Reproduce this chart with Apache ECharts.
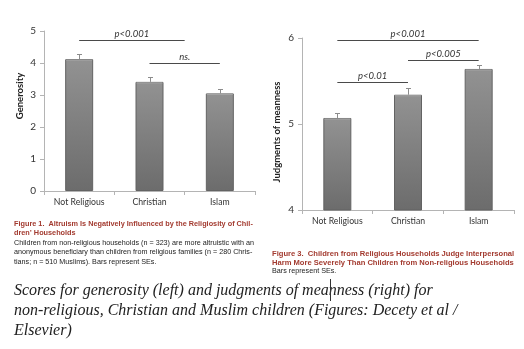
<!DOCTYPE html>
<html>
<head>
<meta charset="utf-8">
<script src="https://cdn.jsdelivr.net/npm/echarts@6/dist/echarts.min.js"></script>
<style>
html,body{margin:0;padding:0;background:#fff;}
#c{width:524px;height:349px;}
</style>
</head>
<body>
<div id="c"></div>
<script>
const categories = ['Not Religious', 'Christian', 'Islam'];
const generosity = [4.12, 3.41, 3.05];
const generositySE = [0.15, 0.16, 0.13];
const meanness = [5.07, 5.34, 5.64];
const meannessSE = [0.06, 0.08, 0.05];
const generosityTicks = [0, 1, 2, 3, 4, 5];
const meannessTicks = [4, 5, 6];
// significance brackets: [from category, to category, level, label]
const generositySig = [[0, 1.5, 4.72, 'p<0.001'], [1, 2, 3.99, 'ns.']];
const meannessSig = [[0, 2, 5.98, 'p<0.001'], [1, 2, 5.75, 'p<0.005'], [0, 1, 5.49, 'p<0.01']];

const leftCaptionTitle = ['Figure 1.  Altruism Is Negatively Influenced by the Religiosity of Chil-', 'dren\u2019 Households'];
const leftCaptionBody = ['Children from non-religious households (n = 323) are more altruistic with an',
  'anonymous beneficiary than children from religious families (n = 280 Chris-',
  'tians; n = 510 Muslims). Bars represent SEs.'];
const rightCaptionTitle = ['Figure 3.  Children from Religious Households Judge Interpersonal',
  'Harm More Severely Than Children from Non-religious Households'];
const rightCaptionBody = ['Bars represent SEs.'];
const bottomText = ['Scores for generosity (left) and judgments of meanness (right) for',
  'non-religious, Christian and Muslim children (Figures: Decety et al /',
  'Elsevier)'];

const chart = echarts.init(document.getElementById('c'), null, {renderer: 'canvas'});
const tickFont = 'Lato, "Open Sans", sans-serif';
const axisGray = '#b4b4b4';

function xAxisCfg(gi) {
  return {
    type: 'category', gridIndex: gi, data: categories,
    axisLine: {lineStyle: {color: axisGray, width: 1}},
    axisTick: {show: true, length: 4, lineStyle: {color: axisGray}},
    axisLabel: {color: '#333', fontSize: 8.7, fontFamily: tickFont, margin: 7, interval: 0}
  };
}
function yAxisCfg(gi, ticks) {
  return {
    type: 'value', gridIndex: gi, min: ticks[0], max: ticks[ticks.length - 1], interval: ticks[1] - ticks[0],
    axisLine: {show: true, lineStyle: {color: axisGray, width: 1}},
    axisTick: {show: true, length: 4, lineStyle: {color: axisGray}},
    splitLine: {show: false},
    axisLabel: {color: '#333', fontSize: 10, fontFamily: tickFont, margin: 8}
  };
}
const barStyle = {
  color: new echarts.graphic.LinearGradient(0, 0, 0, 1, [
    {offset: 0, color: '#929292'}, {offset: 1, color: '#6c6c6c'}
  ]),
  borderColor: '#636363', borderWidth: 1
};
function errSeries(gi, vals, ses) {
  return {
    type: 'custom', xAxisIndex: gi, yAxisIndex: gi, z: 5,
    data: vals.map((v, i) => [i, v, ses[i]]),
    encode: {x: 0, y: 1},
    renderItem: function (params, api) {
      const i = api.value(0), v = api.value(1), se = api.value(2);
      const b = api.coord([i, v]);
      const t = api.coord([i, v + se]);
      const x = Math.round(b[0]) + 0.5;
      const yt = Math.round(t[1]) + 0.5;
      return {type: 'group', children: [
        {type: 'line', shape: {x1: x, y1: b[1], x2: x, y2: yt}, style: {stroke: '#8c8c8c', lineWidth: 1}},
        {type: 'line', shape: {x1: x - 2.5, y1: yt, x2: x + 2.5, y2: yt}, style: {stroke: '#8c8c8c', lineWidth: 1}},
        {type: 'line', shape: {x1: b[0] - 13, y1: b[1] + 1, x2: b[0] + 13, y2: b[1] + 1}, style: {stroke: '#a8a8a8', lineWidth: 1}}
      ]};
    }
  };
}
function sigSeries(gi, sig) {
  return {
    type: 'custom', xAxisIndex: gi, yAxisIndex: gi, z: 6, clip: false,
    data: sig.map(s => [s[0], s[2]]),
    encode: {x: 0, y: 1},
    renderItem: function (params, api) {
      const s = sig[params.dataIndex];
      const band = api.size([1, 0])[0];
      const o = api.coord([0, s[2]]);
      const x1 = o[0] + s[0] * band, x2 = o[0] + s[1] * band;
      const y = Math.round(o[1]) + 0.5;
      return {type: 'group', children: [
        {type: 'line', shape: {x1: x1, y1: y, x2: x2, y2: y}, style: {stroke: '#4a4a4a', lineWidth: 1}},
        {type: 'text', x: (x1 + x2) / 2, y: y - 7, style: {text: s[3], fill: '#333', font: 'italic 9.5px ' + tickFont, align: 'center', verticalAlign: 'middle'}}
      ]};
    }
  };
}

const graphics = [];
function addLines(lines, x, y0, dy, style) {
  lines.forEach((t, k) => graphics.push({type: 'text', left: x, top: y0 + k * dy, style: Object.assign({text: t}, style)}));
}
const capRed = '#a33b30';
addLines(leftCaptionTitle, 14, 220.5, 9, {fill: capRed, font: 'bold 7.3px "Liberation Sans", Arial, sans-serif'});
addLines(leftCaptionBody, 14, 239.5, 9.3, {fill: '#222', font: '7.2px "Liberation Sans", Arial, sans-serif'});
addLines(rightCaptionTitle, 272, 250, 8.6, {fill: capRed, font: 'bold 7.6px "Liberation Sans", Arial, sans-serif'});
addLines(rightCaptionBody, 272, 267.5, 8.6, {fill: '#222', font: '7.2px "Liberation Sans", Arial, sans-serif'});
addLines(bottomText, 14, 283, 20, {fill: '#222', font: 'italic 16px "Liberation Serif", "DejaVu Serif", serif'});
graphics.push({type: 'text', x: 20, y: 96, rotation: Math.PI / 2, style: {text: 'Generosity', fill: '#222', font: 'bold 9.5px ' + tickFont, align: 'center', verticalAlign: 'middle'}});
graphics.push({type: 'text', x: 277, y: 132, rotation: Math.PI / 2, style: {text: 'Judgments of meanness', fill: '#222', font: 'bold 9.5px ' + tickFont, align: 'center', verticalAlign: 'middle'}});
graphics.push({type: 'line', shape: {x1: 330.5, y1: 279, x2: 330.5, y2: 301}, style: {stroke: '#333', lineWidth: 1}});

chart.setOption({
  animation: false,
  backgroundColor: '#fff',
  grid: [
    {left: 44, top: 31, width: 211, height: 160},
    {left: 302, top: 38, width: 212, height: 172}
  ],
  xAxis: [xAxisCfg(0), xAxisCfg(1)],
  yAxis: [yAxisCfg(0, generosityTicks), yAxisCfg(1, meannessTicks)],
  series: [
    {type: 'bar', xAxisIndex: 0, yAxisIndex: 0, data: generosity, barWidth: 28, itemStyle: barStyle},
    {type: 'bar', xAxisIndex: 1, yAxisIndex: 1, data: meanness, barWidth: 28, itemStyle: barStyle},
    errSeries(0, generosity, generositySE),
    errSeries(1, meanness, meannessSE),
    sigSeries(0, generositySig),
    sigSeries(1, meannessSig)
  ],
  graphic: graphics
});
</script>
</body>
</html>
